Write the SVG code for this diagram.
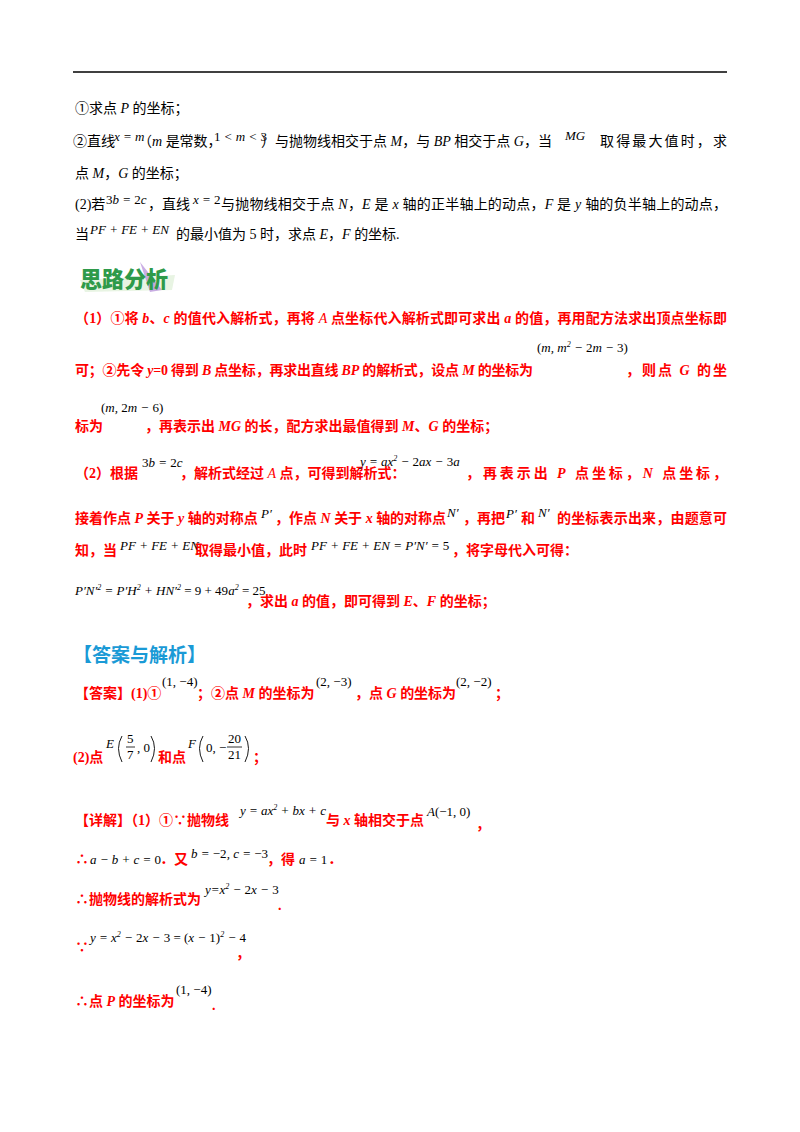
<svg xmlns="http://www.w3.org/2000/svg" width="800" height="1132" viewBox="0 0 800 1132">
<style>
.t{font-family:"Liberation Serif","Noto Sans CJK SC",serif;font-size:14px;fill:#000}
.r{font-family:"Liberation Serif","Noto Sans CJK SC",serif;font-size:14px;font-weight:bold;fill:#ff0000}
.m{font-family:"Liberation Serif",serif;font-size:13px;font-style:italic;fill:#000}
.n{font-style:normal}
.sup{font-size:8px}
</style>
<rect width="800" height="1132" fill="#fff"/>
<line x1="73" y1="72" x2="727" y2="72" stroke="#000" stroke-width="1.5"/>

<g id="question">
<text class="t" x="75" y="113">①求点 <tspan font-style="italic">P</tspan> 的坐标；</text>
<text class="t" x="73" y="146">②直线</text>
<text class="m" x="114" y="141">x = m</text>
<text class="t" x="138" y="146">（<tspan font-style="italic">m</tspan> 是常数，</text>
<text class="m" x="214" y="141"><tspan class="n">1</tspan> &lt; m &lt; <tspan class="n">3</tspan></text>
<text class="t" x="261" y="146">）与抛物线相交于点 <tspan font-style="italic">M</tspan>，与 <tspan font-style="italic">BP</tspan> 相交于点 <tspan font-style="italic">G</tspan>，当</text>
<text class="m" x="565" y="140">MG</text>
<text class="t" x="600" y="146" textLength="127">取得最大值时，求</text>
<text class="t" x="75" y="178">点 <tspan font-style="italic">M</tspan>，<tspan font-style="italic">G</tspan> 的坐标；</text>
<text class="t" x="75" y="209">(2)若</text>
<text class="m" x="106" y="204"><tspan class="n">3</tspan>b = <tspan class="n">2</tspan>c</text>
<text class="t" x="148" y="209">，直线</text>
<text class="m" x="193" y="204">x = <tspan class="n">2</tspan></text>
<text class="t" x="221" y="209" textLength="506">与抛物线相交于点 <tspan font-style="italic">N</tspan>，<tspan font-style="italic">E</tspan> 是 <tspan font-style="italic">x</tspan> 轴的正半轴上的动点，<tspan font-style="italic">F</tspan> 是 <tspan font-style="italic">y</tspan> 轴的负半轴上的动点，</text>
<text class="t" x="75" y="239">当</text>
<text class="m" x="90" y="234">PF + FE + EN</text>
<text class="t" x="176" y="239">的最小值为 5 时，求点 <tspan font-style="italic">E</tspan>，<tspan font-style="italic">F</tspan> 的坐标.</text>
</g>

<g id="analysis-heading">
<path d="M80 280 L175 275 L172 290 L85 292 Z" fill="#d8ecd0" opacity="0.6"/>
<path d="M140 262 L162 290 L150 292 Z" fill="#b48ad8" opacity="0.7"/>
<text x="80" y="287" font-family="Noto Sans CJK SC,sans-serif" font-size="22" font-weight="900" fill="#2e9a4a">思路分析</text>
</g>

<g id="analysis">
<text class="r" x="75" y="323" textLength="652">（1）①将 <tspan font-style="italic">b</tspan>、<tspan font-style="italic">c</tspan> 的值代入解析式，再将 <tspan font-style="italic" font-weight="normal">A</tspan> 点坐标代入解析式即可求出 <tspan font-style="italic">a</tspan> 的值，再用配方法求出顶点坐标即</text>
<text class="r" x="75" y="375" textLength="458">可；②先令 <tspan font-style="italic">y</tspan>=0 得到 <tspan font-style="italic">B</tspan> 点坐标，再求出直线 <tspan font-style="italic">BP</tspan> 的解析式，设点 <tspan font-style="italic">M</tspan> 的坐标为</text>
<text class="m" x="537" y="352"><tspan class="n">(</tspan>m, m<tspan class="sup" dy="-5">2</tspan><tspan dy="5"> − </tspan><tspan class="n">2</tspan>m − <tspan class="n">3)</tspan></text>
<text class="r" x="626" y="375" textLength="101">，则点 <tspan font-style="italic">G</tspan> 的坐</text>
<text class="r" x="75" y="431">标为</text>
<text class="m" x="101" y="412"><tspan class="n">(</tspan>m, <tspan class="n">2</tspan>m − <tspan class="n">6)</tspan></text>
<text class="r" x="145" y="431">，再表示出 <tspan font-style="italic">MG</tspan> 的长，配方求出最值得到 <tspan font-style="italic">M</tspan>、<tspan font-style="italic">G</tspan> 的坐标；</text>
<text class="r" x="75" y="478">（2）根据</text>
<text class="m" x="142" y="467"><tspan class="n">3</tspan>b = <tspan class="n">2</tspan>c</text>
<text class="r" x="180" y="478">，解析式经过 <tspan font-style="italic" font-weight="normal">A</tspan> 点，可得到解析式：</text>
<text class="m" x="360" y="466">y = ax<tspan class="sup" dy="-5">2</tspan><tspan dy="5"> − </tspan><tspan class="n">2</tspan>ax − <tspan class="n">3</tspan>a</text>
<text class="r" x="466" y="478" textLength="261">，再表示出 <tspan font-style="italic">P</tspan> 点坐标，<tspan font-style="italic">N</tspan> 点坐标，</text>
<text class="r" x="75" y="523">接着作点 <tspan font-style="italic">P</tspan> 关于 <tspan font-style="italic">y</tspan> 轴的对称点</text>
<text class="m" x="261" y="518">P′</text>
<text class="r" x="275" y="523">，作点 <tspan font-style="italic">N</tspan> 关于 <tspan font-style="italic">x</tspan> 轴的对称点</text>
<text class="m" x="447" y="517">N′</text>
<text class="r" x="463" y="523">，再把</text>
<text class="m" x="506" y="518">P′</text>
<text class="r" x="521" y="523">和</text>
<text class="m" x="538" y="517">N′</text>
<text class="r" x="557" y="523" textLength="170">的坐标表示出来，由题意可</text>
<text class="r" x="75" y="555">知，当</text>
<text class="m" x="120" y="550">PF + FE + EN</text>
<text class="r" x="195" y="555">取得最小值，此时</text>
<text class="m" x="311" y="550">PF + FE + EN = P′N′ = <tspan class="n">5</tspan></text>
<text class="r" x="452" y="555">，将字母代入可得：</text>
<text class="m" x="75" y="595">P′N′<tspan class="sup" dy="-5">2</tspan><tspan dy="5"> = P′H</tspan><tspan class="sup" dy="-5">2</tspan><tspan dy="5"> + HN′</tspan><tspan class="sup" dy="-5">2</tspan><tspan dy="5" class="n"> = 9 + 49</tspan>a<tspan class="sup" dy="-5">2</tspan><tspan dy="5" class="n"> = 25</tspan></text>
<text class="r" x="246" y="606">，求出 <tspan font-style="italic">a</tspan> 的值，即可得到 <tspan font-style="italic">E</tspan>、<tspan font-style="italic">F</tspan> 的坐标；</text>
</g>

<g id="answer-heading">
<text x="73" y="662" font-family="Noto Sans CJK SC,sans-serif" font-size="19" font-weight="bold" fill="#1a9ad6">【答案与解析】</text>
</g>

<g id="answer">
<text class="r" x="75" y="698">【答案】(1)①</text>
<text class="m n" x="162" y="686">(1, −4)</text>
<text class="r" x="197" y="698">；②点 <tspan font-style="italic">M</tspan> 的坐标为</text>
<text class="m n" x="316" y="686">(2, −3)</text>
<text class="r" x="355" y="698">，点 <tspan font-style="italic">G</tspan> 的坐标为</text>
<text class="m n" x="456" y="686">(2, −2)</text>
<text class="r" x="495" y="698">；</text>
<text class="r" x="73" y="762">(2)点</text>
<text class="m" x="106" y="748">E</text>
<path d="M122 736 Q115 748 122 762" fill="none" stroke="#000" stroke-width="0.9"/>
<text class="m n" x="127" y="743">5</text>
<line x1="126" y1="747" x2="135" y2="747" stroke="#000" stroke-width="0.8"/>
<text class="m n" x="127" y="759">7</text>
<text class="m n" x="137" y="752">, 0</text>
<path d="M151 736 Q158 748 151 762" fill="none" stroke="#000" stroke-width="0.9"/>
<text class="r" x="158" y="762">和点</text>
<text class="m" x="188" y="748">F</text>
<path d="M203 736 Q196 748 203 762" fill="none" stroke="#000" stroke-width="0.9"/>
<text class="m n" x="206" y="752">0, −</text>
<text class="m n" x="228" y="743">20</text>
<line x1="227" y1="747" x2="242" y2="747" stroke="#000" stroke-width="0.8"/>
<text class="m n" x="228" y="759">21</text>
<path d="M245 736 Q252 748 245 762" fill="none" stroke="#000" stroke-width="0.9"/>
<text class="r" x="253" y="762">；</text>
</g>

<g id="detail">
<text class="r" x="75" y="825">【详解】（1）①∵抛物线</text>
<text class="m" x="240" y="815">y = ax<tspan class="sup" dy="-5">2</tspan><tspan dy="5"> + bx + c</tspan></text>
<text class="r" x="326" y="825">与 <tspan font-style="italic">x</tspan> 轴相交于点</text>
<text class="m" x="427" y="816">A<tspan class="n">(−1, 0)</tspan></text>
<text class="r" x="476" y="829">，</text>
<text class="r" x="75" y="864">∴</text>
<text class="m" x="90" y="864" font-size="14">a − b + c = <tspan class="n">0</tspan></text>
<text class="r" x="160" y="864">．又</text>
<text class="m" x="191" y="858" font-size="14">b = <tspan class="n">−2</tspan>, c = <tspan class="n">−3</tspan></text>
<text class="r" x="267" y="864">，得</text>
<text class="m" x="299" y="864" font-size="14">a = <tspan class="n">1</tspan></text>
<text class="r" x="328" y="864">．</text>
<text class="r" x="75" y="904">∴抛物线的解析式为</text>
<text class="m" x="205" y="894">y=x<tspan class="sup" dy="-5">2</tspan><tspan dy="5"> − </tspan><tspan class="n">2</tspan>x − <tspan class="n">3</tspan></text>
<text class="r" x="278" y="910">.</text>
<text class="r" x="75" y="952">∵</text>
<text class="m" x="90" y="942">y = x<tspan class="sup" dy="-5">2</tspan><tspan dy="5"> − </tspan><tspan class="n">2</tspan>x − <tspan class="n">3 = (</tspan>x − <tspan class="n">1)</tspan><tspan class="sup" dy="-5">2</tspan><tspan dy="5"> − </tspan><tspan class="n">4</tspan></text>
<text class="r" x="236" y="958">，</text>
<text class="r" x="75" y="1006">∴点 <tspan font-style="italic">P</tspan> 的坐标为</text>
<text class="m n" x="176" y="994">(1, −4)</text>
<text class="r" x="212" y="1010">.</text>
</g>
</svg>
